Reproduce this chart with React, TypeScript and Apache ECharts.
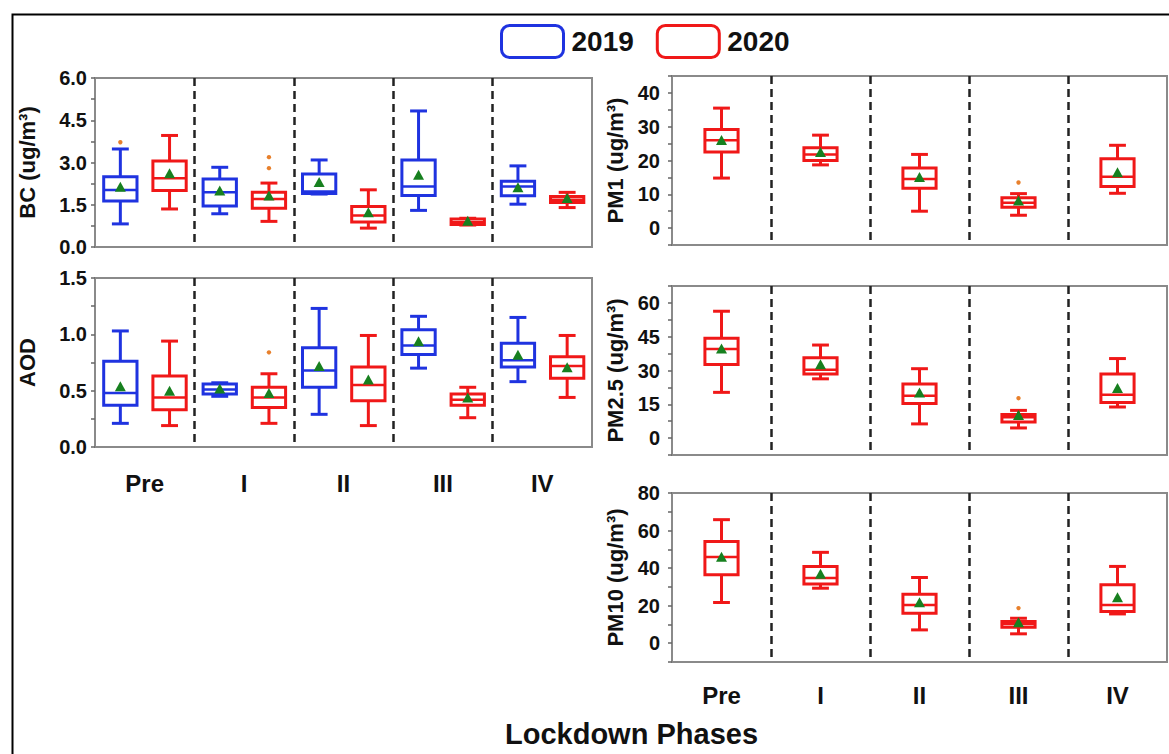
import React, { useEffect, useRef } from 'react';
import * as echarts from 'echarts';

// ---------- data ----------
const phases = ['Pre', 'I', 'II', 'III', 'IV'];
const years = ['2019', '2020'];

// box stats: [min, Q1, median, Q3, max]
const bc2019 = [
  [0.82, 1.63, 2.02, 2.49, 3.48],
  [1.18, 1.46, 1.94, 2.41, 2.83],
  [1.88, 1.90, 1.97, 2.59, 3.09],
  [1.30, 1.83, 2.15, 3.09, 4.83],
  [1.52, 1.82, 2.15, 2.33, 2.88],
];
const bc2019Mean = [2.10, 1.97, 2.27, 2.53, 2.09];
const bc2019Out = [[0, 3.72]];

const bc2020 = [
  [1.35, 2.01, 2.44, 3.05, 3.96],
  [0.91, 1.38, 1.70, 1.94, 2.27],
  [0.67, 0.89, 1.12, 1.44, 2.03],
  [0.78, 0.80, 0.88, 0.99, 1.02],
  [1.40, 1.58, 1.68, 1.79, 1.94],
];
const bc2020Mean = [2.58, 1.79, 1.20, 0.90, 1.70];
const bc2020Out = [[1, 3.19], [1, 2.80]];

const aod2019 = [
  [0.21, 0.37, 0.48, 0.76, 1.03],
  [0.45, 0.47, 0.51, 0.56, 0.57],
  [0.29, 0.53, 0.68, 0.88, 1.23],
  [0.70, 0.82, 0.90, 1.04, 1.16],
  [0.58, 0.71, 0.77, 0.92, 1.15],
];
const aod2019Mean = [0.53, 0.51, 0.71, 0.93, 0.81];
const aod2019Out: number[][] = [];

const aod2020 = [
  [0.19, 0.33, 0.44, 0.63, 0.94],
  [0.21, 0.35, 0.44, 0.53, 0.65],
  [0.19, 0.41, 0.55, 0.71, 0.99],
  [0.26, 0.37, 0.42, 0.47, 0.53],
  [0.44, 0.61, 0.72, 0.80, 0.99],
];
const aod2020Mean = [0.49, 0.47, 0.59, 0.43, 0.70];
const aod2020Out = [[1, 0.84]];

const pm1 = [
  [14.8, 22.5, 26.0, 29.2, 35.5],
  [18.7, 20.0, 21.8, 23.8, 27.5],
  [5.0, 11.8, 14.5, 17.8, 21.8],
  [3.8, 6.2, 7.5, 9.0, 10.2],
  [10.3, 12.3, 15.2, 20.5, 24.5],
];
const pm1Mean = [25.8, 22.2, 14.8, 7.9, 16.2];
const pm1Out = [[3, 13.5]];

const pm25 = [
  [20.3, 32.7, 39.5, 44.3, 56.3],
  [26.3, 28.5, 30.3, 35.7, 41.3],
  [6.3, 15.3, 18.8, 24.0, 30.8],
  [4.5, 7.2, 9.3, 10.5, 12.3],
  [13.8, 15.8, 19.2, 28.5, 35.3],
];
const pm25Mean = [39.3, 32.3, 19.8, 9.8, 21.8];
const pm25Out = [[3, 17.7]];

const pm10 = [
  [21.7, 36.4, 45.9, 54.2, 65.8],
  [29.3, 31.5, 34.7, 40.9, 48.4],
  [7.1, 16.0, 20.4, 26.1, 35.0],
  [5.0, 8.5, 10.3, 11.6, 13.3],
  [15.6, 16.9, 20.4, 31.1, 40.9],
];
const pm10Mean = [45.5, 36.4, 21.3, 10.7, 24.0];
const pm10Out = [[3, 18.7]];

// ---------- style ----------
const BLUE = '#1f33e0';
const RED = '#f01818';
const GREEN = '#17801f';
const OUTLIER = '#e8802c';
const FONT = "'Liberation Sans', Arial, Helvetica, sans-serif";
const TXT = '#111';

function toItems(stats: number[][], means: number[]) {
  return stats.map((s, i) => [i, ...s, means[i]]);
}

function boxRenderer(offsetFrac: number, color: string) {
  return (params: any, api: any) => {
    const i = api.value(0);
    const band = api.size([1, 0])[0];
    const p = api.coord([i, api.value(1)]);
    const cx = p[0] + offsetFrac * band;
    const y = (k: number) => api.coord([i, api.value(k)])[1];
    const yMin = y(1), yQ1 = y(2), yMed = y(3), yQ3 = y(4), yMax = y(5), yMean = y(6);
    const bw = band * 0.335;
    const cw = band * 0.17;
    const ls = { stroke: color, lineWidth: 3, fill: null as any };
    return {
      type: 'group',
      children: [
        { type: 'line', shape: { x1: cx, y1: yMax, x2: cx, y2: yQ3 }, style: ls },
        { type: 'line', shape: { x1: cx, y1: yQ1, x2: cx, y2: yMin }, style: ls },
        { type: 'line', shape: { x1: cx - cw / 2, y1: yMax, x2: cx + cw / 2, y2: yMax }, style: ls },
        { type: 'line', shape: { x1: cx - cw / 2, y1: yMin, x2: cx + cw / 2, y2: yMin }, style: ls },
        {
          type: 'rect',
          shape: { x: cx - bw / 2, y: yQ3, width: bw, height: Math.max(yQ1 - yQ3, 1) },
          style: { stroke: color, lineWidth: 3, fill: '#fff' },
        },
        { type: 'line', shape: { x1: cx - bw / 2, y1: yMed, x2: cx + bw / 2, y2: yMed }, style: { stroke: color, lineWidth: 2.5 } },
        {
          type: 'polygon',
          shape: { points: [[cx, yMean - 6], [cx - 5.5, yMean + 4], [cx + 5.5, yMean + 4]] },
          style: { fill: GREEN, stroke: null as any },
        },
      ],
    };
  };
}

function outlierRenderer(offsetFrac: number) {
  return (params: any, api: any) => {
    const i = api.value(0);
    const band = api.size([1, 0])[0];
    const p = api.coord([i, api.value(1)]);
    return {
      type: 'circle',
      shape: { cx: p[0] + offsetFrac * band, cy: p[1], r: 2.2 },
      style: { fill: OUTLIER, stroke: null as any },
    };
  };
}

function labelFmt(step: number, dec: number) {
  return (v: number) => {
    const r = v / step;
    if (Math.abs(r - Math.round(r)) < 1e-6 && v >= -1e-9) return v.toFixed(dec);
    return '';
  };
}

const App: React.FC = () => {
  const ref = useRef<HTMLDivElement>(null);

  useEffect(() => {
    document.body.style.margin = '0';
    if (!ref.current) return;
    const chart = echarts.init(ref.current, null, { renderer: 'svg' });

    const grids = [
      { left: 95, top: 78, width: 497, height: 169 },
      { left: 95, top: 278, width: 497, height: 169 },
      { left: 672, top: 76, width: 495, height: 169 },
      { left: 672, top: 286, width: 495, height: 169 },
      { left: 672, top: 493, width: 495, height: 169 },
    ].map((g) => ({ ...g, show: true, borderColor: '#8a8a8a', borderWidth: 2, backgroundColor: 'transparent' }));

    const showXLabel = [false, true, false, false, true];
    const xAxes = grids.map((_, gi) => ({
      type: 'category',
      gridIndex: gi,
      data: phases,
      boundaryGap: true,
      axisTick: { show: false },
      axisLine: { show: false },
      axisLabel: {
        show: showXLabel[gi],
        fontSize: 24,
        fontWeight: 'bold',
        color: TXT,
        fontFamily: FONT,
        margin: gi === 1 ? 24 : 21,
      },
      splitLine: {
        show: true,
        showMinLine: false,
        showMaxLine: false,
        lineStyle: { color: '#222', width: 2.5, type: [8, 5] },
      },
    }));

    const yDefs = [
      { name: 'BC (ug/m³)', min: 0, max: 6, interval: 0.75, step: 1.5, dec: 1, gap: 57 },
      { name: 'AOD', min: 0, max: 1.5, interval: 0.25, step: 0.5, dec: 1, gap: 57 },
      { name: 'PM1 (ug/m³)', min: -5, max: 45, interval: 5, step: 10, dec: 0, gap: 46 },
      { name: 'PM2.5 (ug/m³)', min: -7.5, max: 67.5, interval: 7.5, step: 15, dec: 0, gap: 46 },
      { name: 'PM10 (ug/m³)', min: -10, max: 80, interval: 10, step: 20, dec: 0, gap: 46 },
    ];
    const yAxes = yDefs.map((d, gi) => ({
      type: 'value',
      gridIndex: gi,
      min: d.min,
      max: d.max,
      interval: d.interval,
      name: d.name,
      nameLocation: 'middle',
      nameRotate: 90,
      nameGap: d.gap,
      nameTextStyle: { fontSize: 22, fontWeight: 'bold', color: TXT, fontFamily: FONT },
      axisLine: { show: false },
      axisTick: { show: true, length: 4, lineStyle: { color: '#666', width: 1.5 } },
      axisLabel: {
        formatter: labelFmt(d.step, d.dec),
        fontSize: 20,
        fontWeight: 'bold',
        color: TXT,
        fontFamily: FONT,
        margin: gi < 2 ? 8 : 12,
      },
      splitLine: { show: false },
    }));

    const boxSeries = (name: string, gi: number, stats: number[][], means: number[], off: number, color: string) => ({
      type: 'custom',
      name,
      xAxisIndex: gi,
      yAxisIndex: gi,
      data: toItems(stats, means),
      encode: { x: 0, y: [1, 2, 3, 4, 5, 6] },
      renderItem: boxRenderer(off, color),
      itemStyle: { color: '#fff', borderColor: color, borderWidth: 3 },
      silent: true,
      z: 3,
    });
    const outSeries = (gi: number, pts: number[][], off: number) => ({
      type: 'custom',
      name: 'outlier',
      xAxisIndex: gi,
      yAxisIndex: gi,
      data: pts,
      encode: { x: 0, y: 1 },
      renderItem: outlierRenderer(off),
      silent: true,
      z: 4,
    });

    const L = -0.245;
    const R = 0.25;
    const series = [
      boxSeries(years[0], 0, bc2019, bc2019Mean, L, BLUE),
      boxSeries(years[1], 0, bc2020, bc2020Mean, R, RED),
      outSeries(0, bc2019Out, L),
      outSeries(0, bc2020Out, R),
      boxSeries(years[0], 1, aod2019, aod2019Mean, L, BLUE),
      boxSeries(years[1], 1, aod2020, aod2020Mean, R, RED),
      outSeries(1, aod2019Out, L),
      outSeries(1, aod2020Out, R),
      boxSeries(years[1], 2, pm1, pm1Mean, 0, RED),
      outSeries(2, pm1Out, 0),
      boxSeries(years[1], 3, pm25, pm25Mean, 0, RED),
      outSeries(3, pm25Out, 0),
      boxSeries(years[1], 4, pm10, pm10Mean, 0, RED),
      outSeries(4, pm10Out, 0),
    ];

    chart.setOption({
      animation: false,
      backgroundColor: '#fff',
      title: {
        text: 'Lockdown Phases',
        left: 500,
        top: 714,
        padding: 5,
        textStyle: { fontSize: 29, fontWeight: 'bold', color: TXT, fontFamily: FONT },
      },
      legend: {
        data: [
          { name: years[0], itemStyle: { color: '#fff', borderColor: BLUE, borderWidth: 3 } },
          { name: years[1], itemStyle: { color: '#fff', borderColor: RED, borderWidth: 3 } },
        ],
        left: 500,
        top: 24,
        padding: 0,
        icon: 'roundRect',
        itemWidth: 62,
        itemHeight: 32,
        itemGap: 22,
        selectedMode: false,
        textStyle: { fontSize: 28, fontWeight: 'bold', color: TXT, fontFamily: FONT, padding: [0, 0, 0, 3] },
      },
      graphic: [
        {
          type: 'rect',
          left: 10,
          top: 12,
          shape: { width: 1200, height: 800 },
          style: { fill: 'none', stroke: '#000', lineWidth: 2 },
          silent: true,
        },
      ],
      grid: grids,
      xAxis: xAxes,
      yAxis: yAxes,
      series,
    } as any);

    return () => chart.dispose();
  }, []);

  return <div ref={ref} style={{ width: 1169, height: 754 }} />;
};

export default App;
